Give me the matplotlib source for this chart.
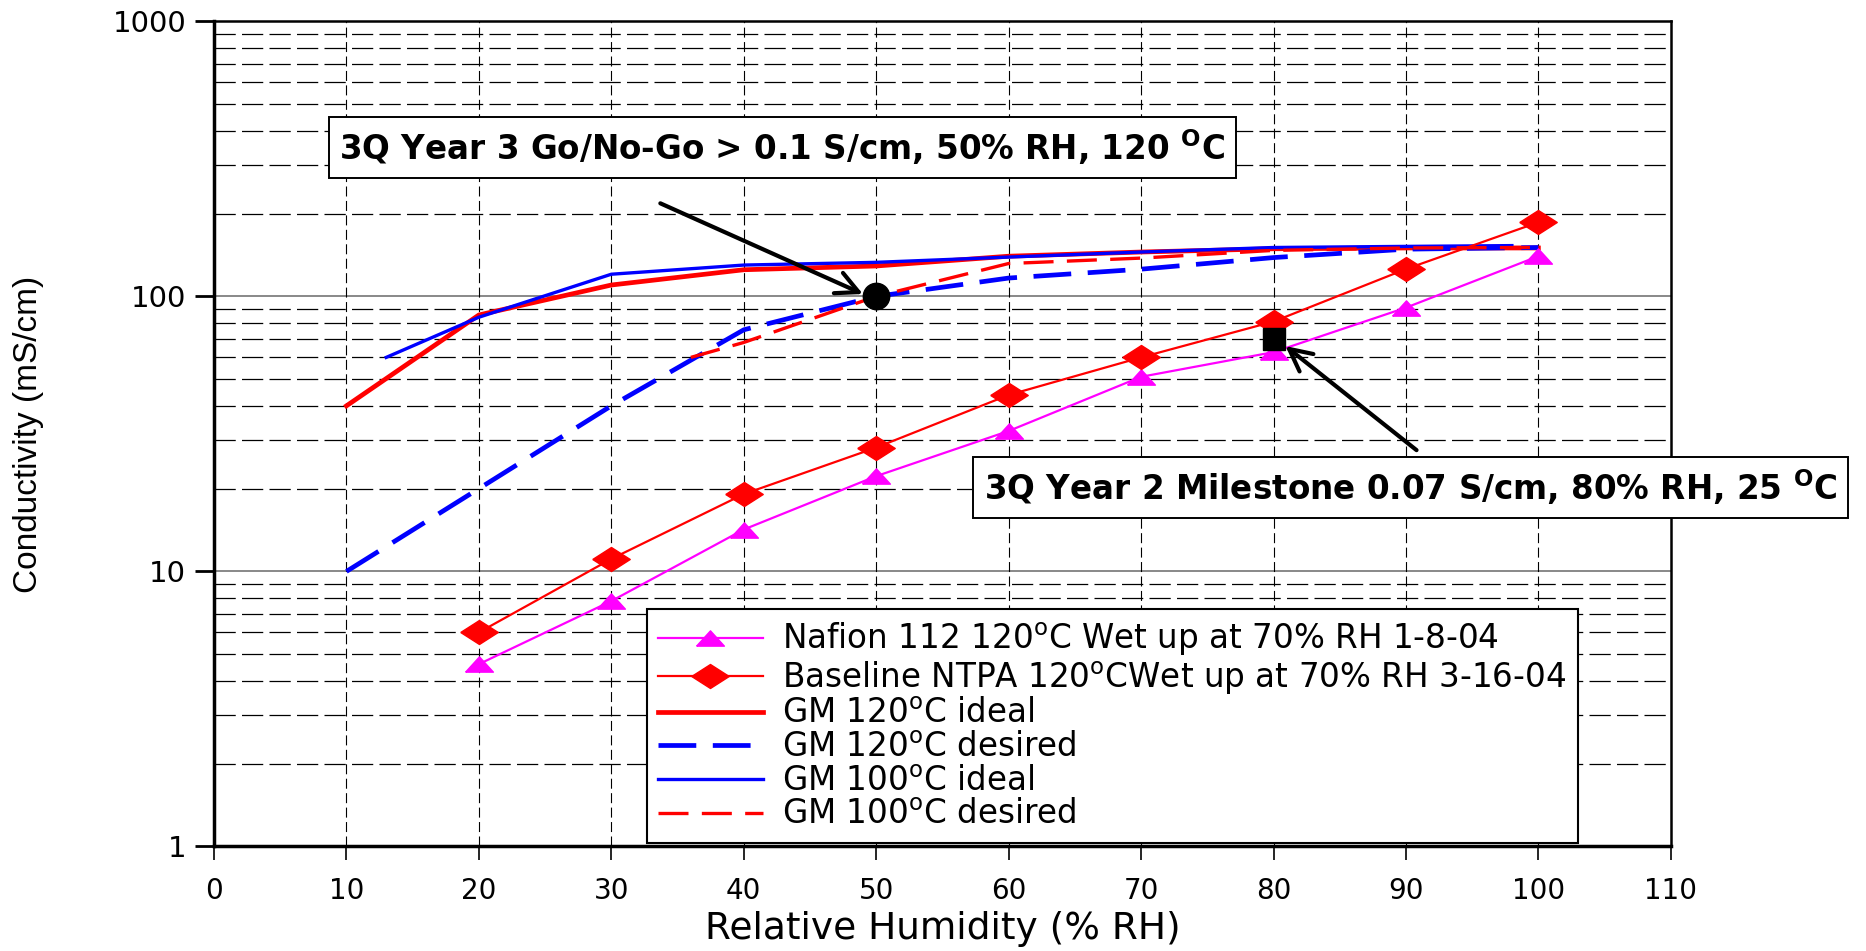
import matplotlib
matplotlib.use("Agg")
import matplotlib.pyplot as plt
from matplotlib.ticker import FixedLocator, NullFormatter
import numpy as np

plt.rcParams['mathtext.fontset'] = 'dejavusans'

# ---------------- data ----------------
rh = [20, 30, 40, 50, 60, 70, 80, 90, 100]
nafion = [4.6, 7.8, 14.2, 22.2, 32.4, 51, 62.7, 91, 140]
baseline = [6.0, 11.1, 19.1, 28.2, 43.8, 60, 81, 125.7, 186]

gm120_ideal_x = [10, 20, 30, 40, 50, 60, 70, 80, 90, 100]
gm120_ideal_y = [40, 85.6, 110, 125, 129, 140, 145, 149, 150, 150]

gm120_desired_x = [10, 20, 30, 40, 50, 60, 70, 80, 90, 100]
gm120_desired_y = [10, 20, 40, 75.6, 100, 116.6, 125.6, 138.4, 148.5, 150.6]

gm100_ideal_x = [13, 20, 30, 40, 50, 60, 70, 80, 90, 98]
gm100_ideal_y = [60, 84, 120.4, 130, 133, 139, 145, 150.6, 152, 153]

gm100_desired_x = [36, 40, 50, 60, 70, 80, 90, 100]
gm100_desired_y = [60, 68, 100, 131.7, 137.8, 147, 150, 150.6]

goal_x, goal_y = [50], [100]
milestone_x, milestone_y = [80], [70]

x_ticks = [0, 10, 20, 30, 40, 50, 60, 70, 80, 90, 100, 110]
y_ticks = [1, 10, 100, 1000]
y_ticklabels = ['1', '10', '100', '1000']

labels = ["Nafion 112 120$^{\\rm o}$C Wet up at 70% RH 1-8-04",
          "Baseline NTPA 120$^{\\rm o}$CWet up at 70% RH 3-16-04",
          "GM 120$^{\\rm o}$C ideal",
          "GM 120$^{\\rm o}$C desired",
          "GM 100$^{\\rm o}$C ideal",
          "GM 100$^{\\rm o}$C desired"]

note1 = "3Q Year 3 Go/No-Go > 0.1 S/cm, 50% RH, 120 $^{\\mathbf{O}}$C"
note2 = "3Q Year 2 Milestone 0.07 S/cm, 80% RH, 25 $^{\\mathbf{O}}$C"

# ---------------- figure ----------------
fig = plt.figure(figsize=(18.66, 9.51), dpi=100)
ax = fig.add_axes([0.1147, 0.110, 0.7807, 0.8675])
ax.set_yscale('log')
ax.set_xlim(0, 110)
ax.set_ylim(1, 1000)

# grid
ax.yaxis.set_minor_locator(FixedLocator([m * 10 ** e for e in range(0, 3) for m in range(2, 10)]))
ax.yaxis.set_minor_formatter(NullFormatter())
ax.grid(True, which='minor', axis='y', color='black', lw=0.9, linestyle=(0, (17, 5)))
for v in [10, 100]:
    ax.axhline(v, color='#7f7f7f', lw=1.3, zorder=1)
for v in range(10, 110, 10):
    ax.axvline(v, color='black', lw=0.8, linestyle=(0, (9, 4)), zorder=1)

# custom wide markers
tri = [(-1, -0.55), (0, 0.55), (1, -0.55), (-1, -0.55)]
dia = [(-1, 0), (0, 0.64), (1, 0), (0, -0.64), (-1, 0)]

ax.plot(rh, nafion, color='#FF00FF', lw=1.6, marker=tri, markersize=20,
        markerfacecolor='#FF00FF', markeredgecolor='#FF00FF', label=labels[0], zorder=4)
ax.plot(rh, baseline, color='#FF0000', lw=1.6, marker=dia, markersize=27,
        markerfacecolor='#FF0000', markeredgecolor='#FF0000', label=labels[1], zorder=4)
ax.plot(gm120_ideal_x, gm120_ideal_y, color='#FF0000', lw=3.4, label=labels[2], zorder=3)
ax.plot(gm120_desired_x, gm120_desired_y, color='#0000FF', lw=3.4,
        linestyle=(0, (8, 3.5)), label=labels[3], zorder=3)
ax.plot(gm100_ideal_x, gm100_ideal_y, color='#0000FF', lw=2.4, label=labels[4], zorder=3)
ax.plot(gm100_desired_x, gm100_desired_y, color='#FF0000', lw=2.4,
        linestyle=(0, (9, 4)), label=labels[5], zorder=3)

ax.plot(goal_x, goal_y, 'o', color='black', markersize=19, zorder=6)
ax.plot(milestone_x, milestone_y, 's', color='black', markersize=16, zorder=6)

# arrows
ax.annotate('', xy=(49.0, 102), xytext=(33.7, 218),
            arrowprops=dict(arrowstyle='->', lw=3.0, color='black', mutation_scale=40,
                            shrinkA=0, shrinkB=0), zorder=7)
ax.annotate('', xy=(80.9, 66), xytext=(90.8, 27.6),
            arrowprops=dict(arrowstyle='->', lw=3.0, color='black', mutation_scale=40,
                            shrinkA=0, shrinkB=0), zorder=7)

# ticks
ax.xaxis.set_major_locator(FixedLocator(x_ticks))
ax.set_xticklabels([str(t) for t in x_ticks])
ax.yaxis.set_major_locator(FixedLocator(y_ticks))
ax.set_yticklabels(y_ticklabels)
ax.tick_params(axis='x', which='major', direction='out', length=10, width=1.2, pad=12,
               labelsize=20)
ax.tick_params(axis='y', which='major', direction='out', length=14, width=2, pad=6,
               labelsize=21)
ax.tick_params(axis='y', which='minor', length=0)
for lab in ax.get_xticklabels() + ax.get_yticklabels():
    lab.set_family('DejaVu Sans')

for side in ['left', 'bottom']:
    ax.spines[side].set_linewidth(2.5)
for side in ['top', 'right']:
    ax.spines[side].set_linewidth(1.8)

ax.set_xlabel('Relative Humidity (% RH)', fontsize=27, family='DejaVu Sans', labelpad=4)
ax.set_ylabel('Conductivity (mS/cm)', fontsize=24,
              family=['Liberation Sans Narrow', 'Liberation Sans'])
ax.yaxis.set_label_coords(-0.117, 0.5)

leg = ax.legend(loc='upper left', bbox_to_anchor=(0.297, 0.2874), borderaxespad=0,
                fancybox=False, framealpha=1, edgecolor='black',
                prop={'family': 'DejaVu Sans', 'size': 23.5},
                handlelength=3.2, handletextpad=0.6, labelspacing=0.02,
                borderpad=0.35)
leg.get_frame().set_linewidth(1.5)
leg.set_zorder(8)

bbox_style = dict(boxstyle='square,pad=0.32', facecolor='white', edgecolor='black', lw=1.4)
fig.text(0.4193, 0.8449, note1, ha='center', va='center', fontsize=23.5, fontweight='bold',
         family='DejaVu Sans', bbox=bbox_style, zorder=9)
fig.text(0.7559, 0.4874, note2, ha='center', va='center', fontsize=23.5, fontweight='bold',
         family='DejaVu Sans', bbox=bbox_style, zorder=9)

fig.savefig('out.png', dpi=100)
